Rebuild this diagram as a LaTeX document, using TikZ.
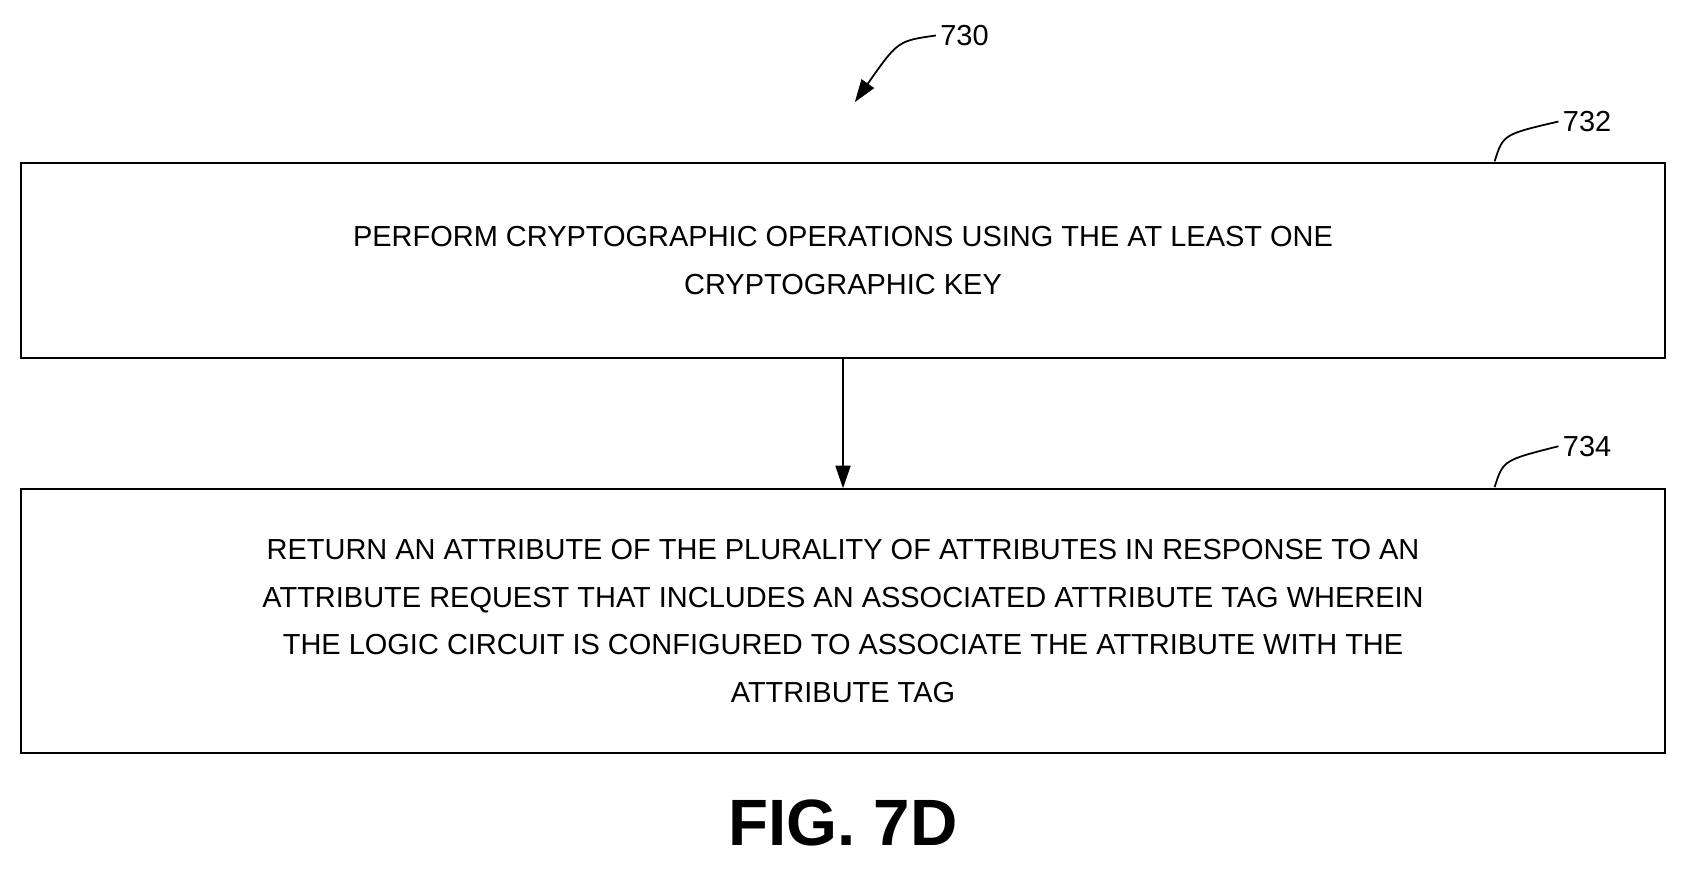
\documentclass[tikz,border=0pt]{standalone}
\usepackage{fontspec}
\setmainfont{Liberation Sans}
\usetikzlibrary{positioning, arrows.meta}
\tikzset{
    block/.style={draw, line width=1.6pt, minimum width=45.84cm, align=center,
        font=\fontsize{23}{38}\selectfont},
    ref/.style={font=\fontsize{23}{28}\selectfont},
    flow/.style={-{Triangle[length=18pt,width=12pt]}, line width=1.4pt},
}
\begin{document}
\begin{tikzpicture}[x=0.03cm, y=-0.03cm]
    \useasboundingbox (0,0) rectangle (1568,832);
        \node[block, minimum height=5.43cm] (s732) at (784,242.5)
            {PERFORM CRYPTOGRAPHIC OPERATIONS USING THE AT LEAST ONE\\CRYPTOGRAPHIC KEY};
        \node[block, minimum height=7.35cm] (s734) at (784,577.5)
            {RETURN AN ATTRIBUTE OF THE PLURALITY OF ATTRIBUTES IN RESPONSE TO AN\\
             ATTRIBUTE REQUEST THAT INCLUDES AN ASSOCIATED ATTRIBUTE TAG WHEREIN\\
             THE LOGIC CIRCUIT IS CONFIGURED TO ASSOCIATE THE ATTRIBUTE WITH THE\\
             ATTRIBUTE TAG};

        \node[ref] (r730) at (897,33) {730};
        \node[ref] (r732) at (1476,113) {732};
        \node[ref] (r734) at (1476,415) {734};
        \node[font=\fontsize{52}{60}\selectfont\bfseries] (fig) at (784,765) {FIG. 7D};

        \coordinate (c730) at (795,95);
        \coordinate (c732) at (1390,150);
        \coordinate (c734) at (1390,453);

    \draw[flow] (s732) -- (s734);
    \draw[line width=1.4pt] (c732) .. controls (1398,125) .. (r732.west);
    \draw[line width=1.4pt] (c734) .. controls (1398,428) .. (r734.west);
    \draw[flow] (r730.west) .. controls (835,38) .. (c730);
\end{tikzpicture}
\end{document}
